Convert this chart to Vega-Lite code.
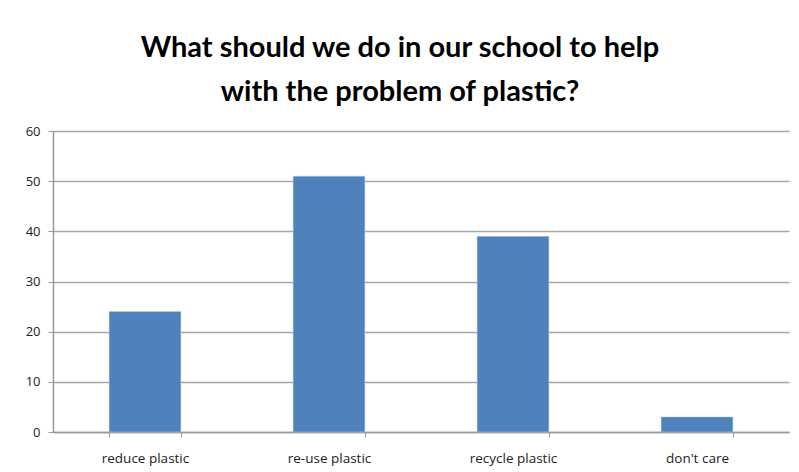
{
  "$schema": "https://vega.github.io/schema/vega-lite/v6.json",
  "width": 736,
  "height": 301,
  "autosize": {"type": "none"},
  "padding": {"left": 53, "top": 131, "right": 10, "bottom": 40},
  "background": "white",
  "title": {
    "text": ["What should we do in our school to help", "with the problem of plastic?"],
    "font": "Lato",
    "fontSize": 29,
    "fontWeight": "bold",
    "color": "#000000",
    "anchor": "middle",
    "lineHeight": 44,
    "dx": -21,
    "offset": 18
  },
  "data": {
    "values": [
      {"option": "reduce plastic", "count": 24},
      {"option": "re-use plastic", "count": 51},
      {"option": "recycle plastic", "count": 39},
      {"option": "don't care", "count": 3}
    ]
  },
  "mark": {"type": "bar", "color": "#4f81bd", "stroke": "#b9cde5", "strokeWidth": 0.5},
  "encoding": {
    "x": {
      "field": "option",
      "type": "nominal",
      "sort": null,
      "scale": {"paddingInner": 0.61, "paddingOuter": 0.305},
      "axis": {
        "title": null,
        "labelAngle": 0,
        "labelFont": "Open Sans",
        "labelFontSize": 13.5,
        "labelColor": "#222222",
        "labelPadding": 14,
        "tickBand": "extent",
        "tickSize": 5,
        "tickColor": "#999999",
        "domainColor": "#999999",
        "domainWidth": 1.5,
        "grid": false
      }
    },
    "y": {
      "field": "count",
      "type": "quantitative",
      "scale": {"domain": [0, 60]},
      "axis": {
        "title": null,
        "values": [0, 10, 20, 30, 40, 50, 60],
        "labelFont": "Open Sans",
        "labelFontSize": 13,
        "labelColor": "#222222",
        "labelPadding": 8,
        "tickSize": 5,
        "tickColor": "#999999",
        "domainColor": "#999999",
        "domainWidth": 1.5,
        "gridColor": "#a6a6a6",
        "gridWidth": 1.5
      }
    }
  },
  "config": {"view": {"stroke": null}}
}
